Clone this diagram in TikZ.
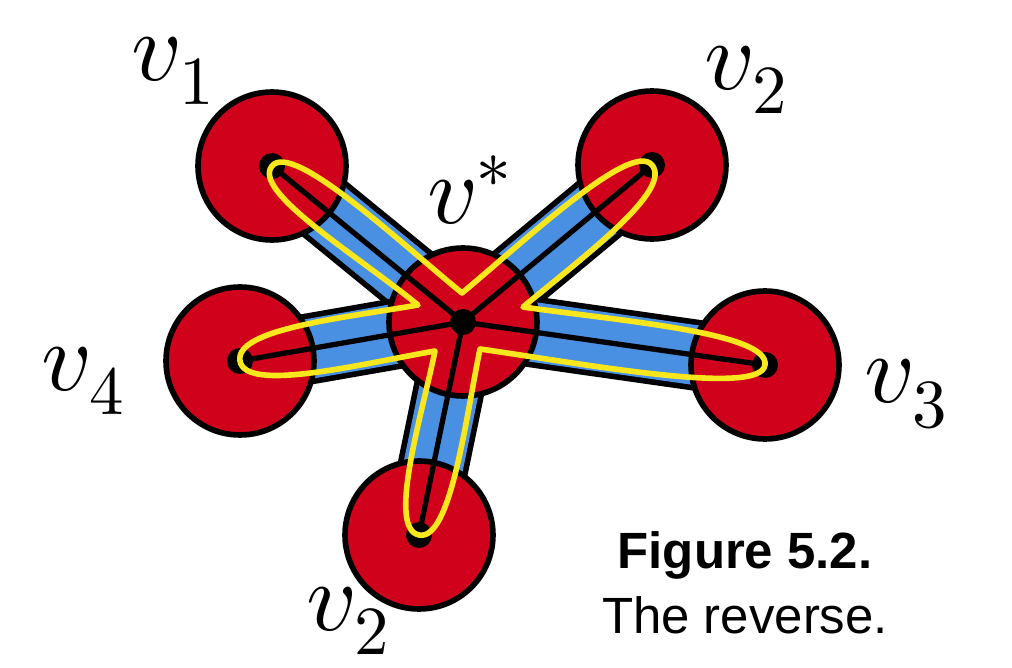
\documentclass[tikz,border=0pt]{standalone}
\usepackage{fontspec}
\usepackage{unicode-math}
\setmathfont{Latin Modern Math}
\setsansfont{Liberation Sans}
\usetikzlibrary{backgrounds,calc}
\definecolor{discred}{HTML}{D0021B}
\definecolor{bandblue}{HTML}{4A90E2}
\definecolor{loopyellow}{HTML}{F8E71C}

\begin{document}
\begin{tikzpicture}[
  x=0.02cm, y=0.02cm,
  disc/.style={circle, draw, line width=3.2pt, fill=discred, minimum size=2.96cm, inner sep=0pt},
  band/.style={line width=3.2pt, double=bandblue, double distance=34pt},
  spoke/.style={line width=3pt},
  loopline/.style={draw=loopyellow, line width=3.2pt, line join=round},
  lbl/.style={inner sep=0pt, font=\fontsize{56}{58}\selectfont},
  caption/.style={align=center, inner sep=0pt, font=\sffamily\fontsize{29}{37}\selectfont}
]
\useasboundingbox (0,0) rectangle (1012,667);

% discs
\node[disc] (vs) at (463,345) {};
\node[disc] (v1) at (272,501) {};
\node[disc] (v2) at (652,502) {};
\node[disc] (v3) at (765,302) {};
\node[disc] (v4) at (240,306) {};
\node[disc] (v5) at (419,132) {};

% blue bands behind the discs
\begin{scope}[on background layer]
  \foreach \v in {v1,v2,v3,v4,v5}
    \draw[band] (vs.center) -- (\v.center);
\end{scope}

% spokes and dots
\foreach \v in {v1,v2,v3,v4,v5}
  \draw[spoke] (vs.center) -- (\v.center);
\foreach \v in {vs,v1,v2,v3,v4,v5}
  \fill (\v.center) circle (13);

% corners of the yellow loop
\coordinate (k12) at (462,374);
\coordinate (k23) at (523,360);
\coordinate (k35) at (480,318);
\coordinate (k54) at (435,316);
\coordinate (k41) at (418,362);

\draw[loopline] (k23)
  to[out=39.7, in=-50.3, out distance=1.6cm, in distance=0.65cm] (v2.center)
  to[out=129.7, in=39.7, out distance=0.65cm, in distance=1.6cm] (k12)
  to[out=140.8, in=50.8, out distance=1.6cm, in distance=0.65cm] (v1.center)
  to[out=230.8, in=140.8, out distance=0.65cm, in distance=1.6cm] (k41)
  to[out=189.9, in=99.9, out distance=1.5cm, in distance=0.65cm] (v4.center)
  to[out=279.9, in=189.9, out distance=0.65cm, in distance=1.5cm] (k54)
  to[out=258.3, in=168.3, out distance=1.4cm, in distance=0.65cm] (v5.center)
  to[out=348.3, in=258.3, out distance=0.65cm, in distance=1.4cm] (k35)
  to[out=-8.1, in=-98.1, out distance=2cm, in distance=0.65cm] (v3.center)
  to[out=81.9, in=-8.1, out distance=0.65cm, in distance=2cm] (k23) -- cycle;

% labels
\node[lbl] (l1) at (173,596) {$v_1$};
\node[lbl] (l2) at (746,587) {$v_2$};
\node[lbl] (ls) at (470,477) {$v^*$};
\node[lbl] (l4) at (83,286) {$v_4$};
\node[lbl] (l3) at (906,273) {$v_3$};
\node[lbl] (l5) at (348,46) {$v_2$};

\node[caption] (cap) at (745,84) {\textbf{Figure 5.2.}\\The reverse.};
\end{tikzpicture}
\end{document}
